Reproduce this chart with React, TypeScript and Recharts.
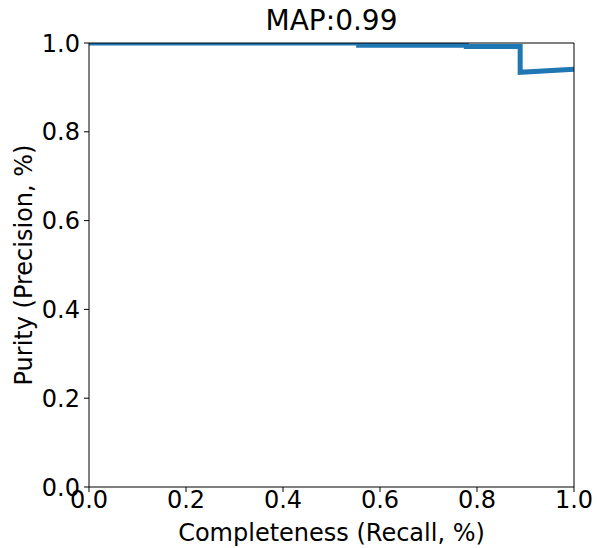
import React from "react";
import { LineChart, Line, XAxis, YAxis, ReferenceLine, Label } from "recharts";

const recall = [0, 0.556, 0.556, 0.778, 0.778, 0.889, 0.889, 1.0];
const precision = [1.0, 1.0, 0.995, 0.995, 0.992, 0.992, 0.934, 0.941];
const xTicks = [0, 0.2, 0.4, 0.6, 0.8, 1.0];
const yTicks = [0, 0.2, 0.4, 0.6, 0.8, 1.0];
const title = "MAP:0.99";
const xLabel = "Completeness (Recall, %)";
const yLabel = "Purity (Precision, %)";

const data = recall.map((r, i) => ({ recall: r, precision: precision[i] }));

const FONT = "DejaVu Sans";

export default function App() {
  return (
    <div style={{ position: "absolute", left: 0, top: 0, width: 597, height: 548, background: "#fff" }}>
      <div
        style={{
          position: "absolute",
          left: 89,
          width: 485,
          top: 5,
          textAlign: "center",
          fontFamily: FONT,
          fontSize: 28,
          lineHeight: "32px",
          color: "#000",
        }}
      >
        {title}
      </div>
      <LineChart
        width={597}
        height={548}
        data={data}
        margin={{ top: 43, right: 23, bottom: 0, left: 0 }}
      >
        <XAxis
          dataKey="recall"
          type="number"
          domain={[0, 1]}
          ticks={xTicks}
          allowDataOverflow
          tickFormatter={(v: number) => v.toFixed(1)}
          height={61}
          tickSize={5}
          tickMargin={-1}
          stroke="#000"
          tick={{ fill: "#000", fontFamily: FONT, fontSize: 24 }}
          interval={0}
        >
          <Label
            content={(props: any) => {
              const vb = props.viewBox || {};
              return (
                <text
                  x={vb.x + vb.width / 2}
                  y={vb.y + 54}
                  textAnchor="middle"
                  fontFamily={FONT}
                  fontSize={24}
                  fill="#000"
                >
                  {xLabel}
                </text>
              );
            }}
          />
        </XAxis>
        <YAxis
          dataKey="precision"
          type="number"
          domain={[0, 1]}
          ticks={yTicks}
          allowDataOverflow
          tickFormatter={(v: number) => v.toFixed(1)}
          width={89}
          tickSize={5}
          tickMargin={4}
          stroke="#000"
          tick={{ fill: "#000", fontFamily: FONT, fontSize: 24 }}
          interval={0}
        >
          <Label
            content={(props: any) => {
              const vb = props.viewBox || {};
              const cy = vb.y + vb.height / 2;
              const cx = 32;
              return (
                <text
                  x={cx}
                  y={cy}
                  textAnchor="middle"
                  transform={`rotate(-90 ${cx} ${cy})`}
                  fontFamily={FONT}
                  fontSize={24}
                  fill="#000"
                >
                  {yLabel}
                </text>
              );
            }}
          />
        </YAxis>
        <Line
          dataKey="precision"
          type="linear"
          stroke="#1f77b4"
          strokeWidth={5}
          dot={false}
          activeDot={false}
          isAnimationActive={false}
        />
        <ReferenceLine y={1} stroke="#000" strokeWidth={1} ifOverflow="visible" />
        <ReferenceLine x={1} stroke="#000" strokeWidth={1} ifOverflow="visible" />
      </LineChart>
    </div>
  );
}
